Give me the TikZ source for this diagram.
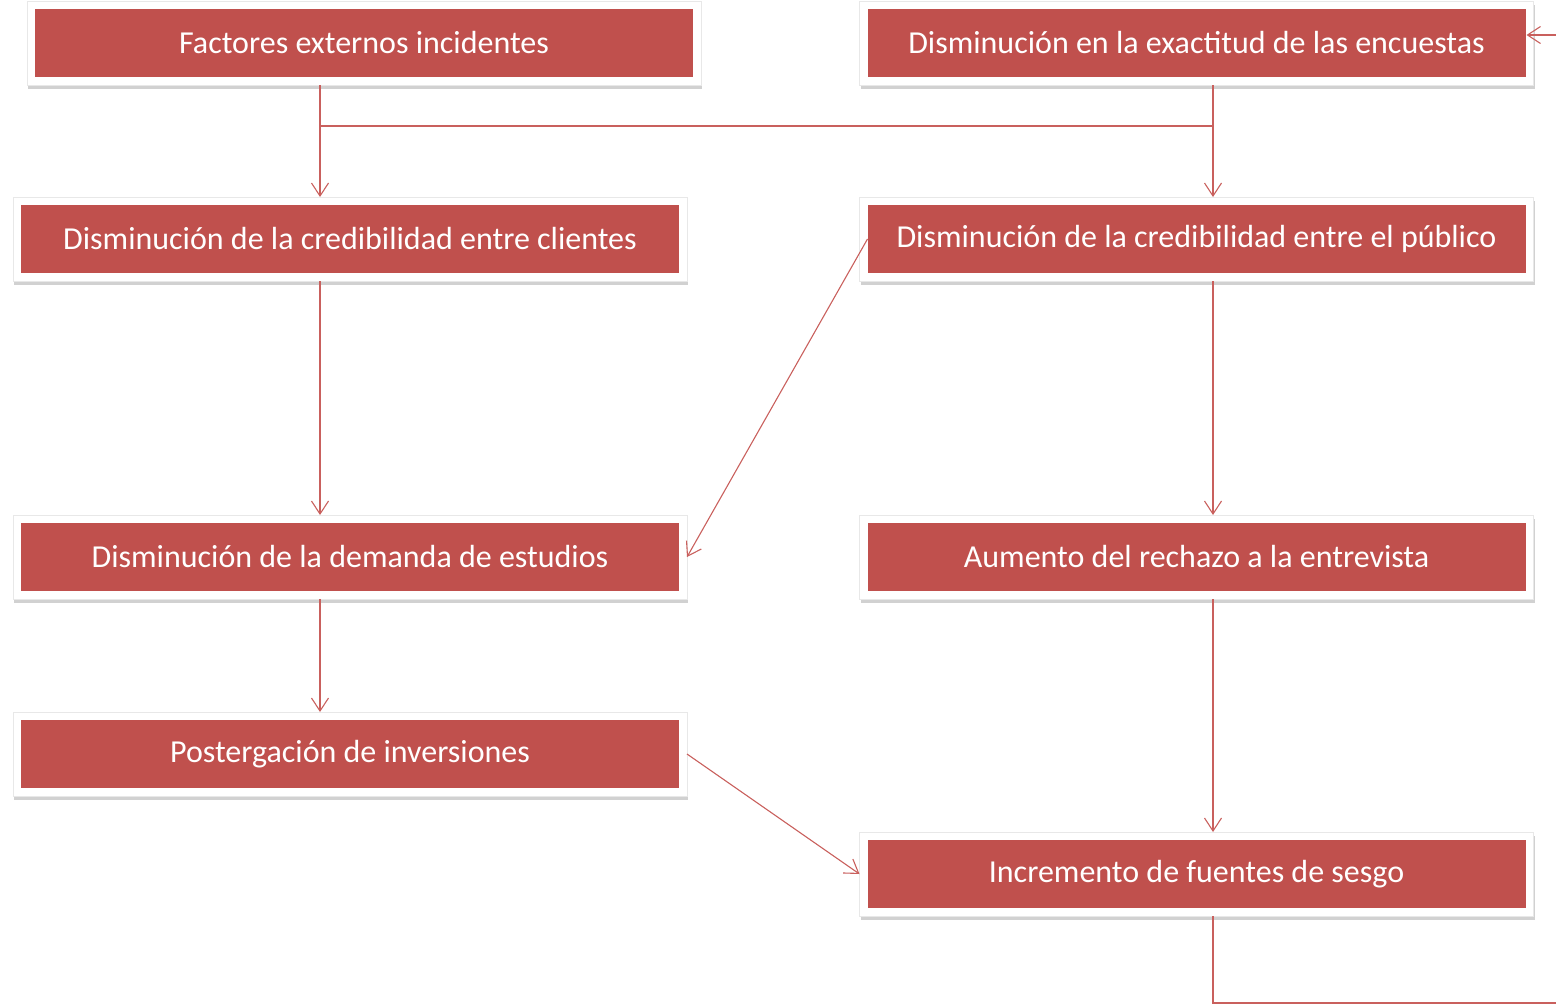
\documentclass[tikz,border=0pt]{standalone}
\usepackage{fontspec}
\setmainfont{Carlito}
\usetikzlibrary{arrows.meta,shadows,calc}
\definecolor{boxred}{HTML}{C0504D}
\definecolor{linered}{HTML}{C9605D}
\tikzset{
  box/.style={rectangle, fill=white, draw=black!9, line width=0.6pt, minimum width=674pt, minimum height=84pt, inner sep=0pt, outer sep=0pt,
    drop shadow={shadow xshift=1pt, shadow yshift=-4pt, opacity=0.3, fill=black!60},
    path picture={\fill[boxred] ([shift={(8pt,-8pt)}]path picture bounding box.north west) rectangle ([shift={(-8pt,8pt)}]path picture bounding box.south east);},
    text=white, font=\fontsize{32}{38}\selectfont},
  conn/.style={draw=linered, line width=1.1pt, -{Straight Barb[length=13pt,width=17pt,line width=1.1pt]}},
  plain/.style={draw=linered, line width=1.1pt}
}
\begin{document}
\begin{tikzpicture}[x=1pt,y=-1pt]
\useasboundingbox (0,0) rectangle (1556,1004);
\clip (0,0) rectangle (1556,1004);
\node[box] (f)  at (364,43)    {Factores externos incidentes};
\node[box] (d2) at (1196.5,43) {Disminución en la exactitud de las encuestas};
\node[box] (c3) at (350,239)   {Disminución de la credibilidad entre clientes};
\node[box] (c4) at (1196.5,239){Disminución de la credibilidad entre el público};
\node[box] (c5) at (350,557)   {Disminución de la demanda de estudios};
\node[box] (c6) at (1196.5,557){Aumento del rechazo a la entrevista};
\node[box] (c7) at (350,754)   {Postergación de inversiones};
\node[box] (c8) at (1196.5,874){Incremento de fuentes de sesgo};
\coordinate (colL) at (320,0);
\coordinate (colR) at (1213,0);
\coordinate (hbar) at (0,126);
\coordinate (bot) at (0,1003);
\coordinate (rout) at (1600,35);
% connectors
\draw[plain] (f.south -| colL) -- (hbar -| colL) -- (hbar -| colR);
\draw[conn] (hbar -| colL) -- (c3.north -| colL);
\draw[conn] (d2.south -| colR) -- (c4.north -| colR);
\draw[conn] (c3.south -| colL) -- (c5.north -| colL);
\draw[conn] ([xshift=8pt]c4.west) -- (c5.east);
\draw[conn] (c4.south -| colR) -- (c6.north -| colR);
\draw[conn] (c5.south -| colL) -- (c7.north -| colL);
\draw[conn] (c7.east) -- (c8.west);
\draw[conn] (c6.south -| colR) -- (c8.north -| colR);
\draw[conn] (c8.south -| colR) -- (bot -| colR) -- (bot -| rout) -- (rout) -- ([xshift=-7pt]d2.east |- rout);
\end{tikzpicture}
\end{document}
